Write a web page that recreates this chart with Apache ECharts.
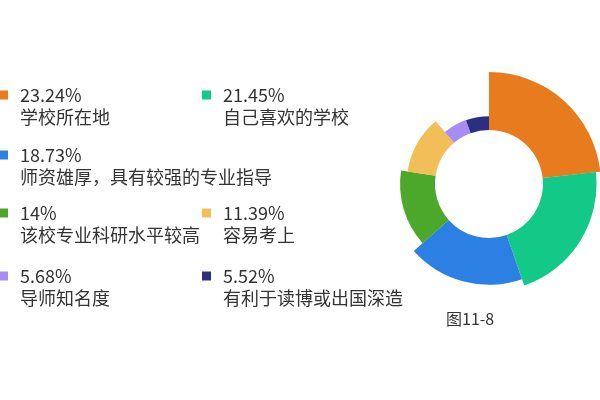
<!DOCTYPE html>
<html>
<head>
<meta charset="utf-8">
<script src="https://cdn.jsdelivr.net/npm/echarts@6/dist/echarts.min.js"></script>
<style>
html,body{margin:0;padding:0;background:#fff;}
#c{width:600px;height:400px;}
</style>
</head>
<body>
<div id="c"></div>
<script>
const categories = ['学校所在地','自己喜欢的学校','师资雄厚，具有较强的专业指导','该校专业科研水平较高','容易考上','导师知名度','有利于读博或出国深造'];
const percents = [23.24, 21.45, 18.73, 14, 11.39, 5.68, 5.52];
const colors = ['#E97B1F','#12C987','#2C7FE3','#4CA82B','#F2BE58','#A78CF6','#2C2E82'];
const caption = '图11-8';

const chart = echarts.init(document.getElementById('c'));
const valueOf = {};
categories.forEach((c,i)=>valueOf[c]=percents[i]);
const font = "'Noto Sans CJK SC', 'Noto Sans', sans-serif";
// legend slot layout: [left, top]
const slots = [[-1,86],[202,86],[-1,146],[-1,204],[202,204],[-1,267],[202,267]];
function legendCfg(name, pos){
  return {
    data: [name],
    left: pos[0],
    top: pos[1],
    padding: 0,
    itemWidth: 9,
    itemHeight: 9,
    icon: 'rect',
    selectedMode: false,
    formatter: n => '{p|' + valueOf[n] + '%}\n{n|' + n + '}',
    textStyle: {
      padding: [22,0,0,7],
      color: '#333',
      fontFamily: font,
      rich: {
        p: {fontSize: 18, lineHeight: 22, color: '#333', fontFamily: font},
        n: {fontSize: 18, lineHeight: 22, color: '#333', fontFamily: font}
      }
    }
  };
}
chart.setOption({
  backgroundColor: '#fff',
  animation: false,
  color: colors,
  title: {
    text: caption,
    left: 446, top: 311,
    padding: 0,
    textStyle: {fontSize: 16, fontWeight: 'normal', color: '#333', fontFamily: font}
  },
  legend: categories.map((c,i)=>legendCfg(c, slots[i])),
  series: [{
    type: 'pie',
    roseType: 'radius',
    center: [489, 184],
    radius: [54, 112],
    startAngle: 90,
    clockwise: true,
    label: {show: false},
    labelLine: {show: false},
    emphasis: {disabled: true},
    itemStyle: {borderWidth: 0},
    data: categories.map((c,i)=>({name: c, value: percents[i]}))
  }]
});
</script>
</body>
</html>
